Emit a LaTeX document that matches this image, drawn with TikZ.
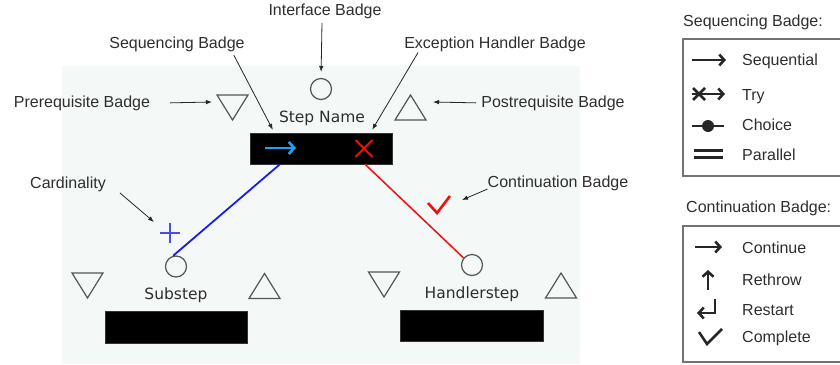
\documentclass[tikz,border=0pt]{standalone}
\usepackage{fontspec}
\setmainfont{Liberation Sans}
\newfontfamily\stepfont{DejaVu Sans}
\usetikzlibrary{arrows.meta}
\definecolor{labelgray}{HTML}{2E2E2E}
\definecolor{shapegray}{HTML}{555555}
\definecolor{panel}{HTML}{F4F8F6}
\definecolor{seqcyan}{HTML}{1CA3F5}
\definecolor{linkblue}{HTML}{1A1AF0}
\definecolor{plusblue}{HTML}{4A4AF5}
\definecolor{exred}{HTML}{F01010}
\begin{document}
\begin{tikzpicture}[x=1pt,y=-1pt,
  lbl/.style={font=\fontsize{16}{18}\selectfont, text=labelgray, anchor=base, inner sep=0pt},
  stepname/.style={font=\stepfont\fontsize{15.5}{18}\selectfont, text=labelgray, anchor=base, inner sep=0pt},
  bar/.style={fill=black, draw=black!80, inner sep=0pt},
  badgecirc/.style={circle, draw=shapegray, line width=1.2pt, minimum size=21pt, inner sep=0pt},
  tri/.style={draw=shapegray, line width=1.2pt, line join=miter},
  pointer/.style={-{Latex[length=6pt,width=4.5pt]}, line width=0.8pt, draw=black!85},
  legbox/.style={draw=black!55, line width=1.4pt},
  sym/.style={line width=2.6pt, draw=black!85},
  barb/.style={-{Straight Barb[length=5pt,width=11pt,line width=2.6pt]}},
  downtri/.pic={\draw[tri] (-15.5,-12.5) -- (15.5,-12.5) -- (0,12.5) -- cycle;},
  uptri/.pic={\draw[tri] (-15.5,12.5) -- (15.5,12.5) -- (0,-12.5) -- cycle;}
]
\useasboundingbox (0,0) rectangle (840,364);
\clip (0,0) rectangle (840,364);

% background panel
\fill[panel] (62,66) rectangle (580,364);

% ---------- main step ----------
\node[bar, minimum width=142pt, minimum height=31pt] (top) at (321,148.5) {};
\node[stepname] (topname) at (322,122) {Step Name};
\node[badgecirc] (ifc) at (321,89) {};
\coordinate (pretri) at (232.5,107.5);
\coordinate (posttri) at (410.5,107.5);
\pic at (pretri) {downtri};
\pic at (posttri) {uptri};
% sequencing badge (cyan arrow) and exception badge (red x)
\coordinate (seqa) at (265,148);
\coordinate (seqb) at (296,148);
\draw[line width=2.8pt, draw=seqcyan, -{Straight Barb[length=5.5pt,width=12pt,line width=2.6pt]}] (seqa) -- (seqb);
\coordinate (exc) at (364,148.5);
\draw[line width=2pt, draw=exred] ([shift={(-8.5,-8.5)}]exc) -- ([shift={(8.5,8.5)}]exc)
      ([shift={(-8.5,8.5)}]exc) -- ([shift={(8.5,-8.5)}]exc);

% ---------- substep ----------
\node[bar, minimum width=142pt, minimum height=32pt] (subbar) at (176,327) {};
\node[stepname] (subname) at (176,299) {Substep};
\node[badgecirc] (subc) at (176,266.5) {};
\pic at (87.5,285.5) {downtri};
\pic at (264.5,286) {uptri};
\coordinate (plus) at (170,233);
\draw[line width=1.6pt, draw=plusblue] ([xshift=-10pt]plus) -- ([xshift=10pt]plus)
      ([yshift=-10pt]plus) -- ([yshift=10pt]plus);

% ---------- handlerstep ----------
\node[bar, minimum width=143pt, minimum height=31pt] (handbar) at (471.5,325.5) {};
\node[stepname] (handname) at (472,298) {Handlerstep};
\node[badgecirc] (handc) at (472,265) {};
\pic at (384,284.5) {downtri};
\pic at (561,285.5) {uptri};
\coordinate (check) at (437,213);
\draw[line width=2.6pt, draw=exred, line join=miter] (428,203) -- (check) -- (450,196);

% ---------- links ----------
\draw[line width=1.8pt, draw=linkblue] ([xshift=-41pt]top.south) -- (subc.105);
\draw[line width=1.5pt, draw=exred] ([xshift=44pt]top.south) -- (handc.140);

% ---------- labels and pointers ----------
\node[lbl] (ifl) at (325,16) {Interface Badge};
\draw[pointer, shorten >=6pt] ([xshift=-3pt,yshift=-3.5pt]ifl.south) -- (ifc.north);

\node[lbl] (seql) at (177,48) {Sequencing Badge};
\draw[pointer] ([xshift=-11pt,yshift=-3.6pt]seql.south east) -- ([xshift=23pt,yshift=3pt]top.north west);

\node[lbl] (excl) at (495,48) {Exception Handler Badge};
\draw[pointer] ([xshift=14pt,yshift=-1pt]excl.south west) -- ([xshift=-20pt,yshift=3pt]top.north east);

\node[lbl] (prel) at (82,107) {Prerequisite Badge};
\draw[pointer] ([xshift=20pt]prel.east) -- ([xshift=-20.5pt,yshift=5.5pt]pretri);

\node[lbl] (postl) at (553,107) {Postrequisite Badge};
\draw[pointer] ([xshift=-5pt]postl.west) -- ([xshift=22.5pt,yshift=5.5pt]posttri);

\node[lbl] (cardl) at (68,188) {Cardinality};
\draw[pointer] ([xshift=14pt,yshift=-1.5pt]cardl.south east) -- ([xshift=-16pt,yshift=11pt]plus);

\node[lbl] (contl) at (558,187) {Continuation Badge};
\draw[pointer] ([xshift=0pt,yshift=1.5pt]contl.south west) -- ([xshift=25pt,yshift=13pt]check);

% ---------- legend: sequencing ----------
\node[lbl, anchor=base west] (seqtitle) at (683,26) {Sequencing Badge:};
\draw[legbox] (683,39) rectangle (860,176);
\node[lbl, anchor=base west] (lseq) at (742,65) {Sequential};
\node[lbl, anchor=base west] (ltry) at (742,100) {Try};
\node[lbl, anchor=base west] (lcho) at (742,130) {Choice};
\node[lbl, anchor=base west] (lpar) at (742,160) {Parallel};
\draw[sym, barb] (692,60) -- (726,60);
\draw[sym, barb] (692,94) -- (725,94);
\draw[sym] (693,88) -- (705,100) (693,100) -- (705,88);
\draw[sym] (692,126) -- (724,126);
\fill[black!85] (708,126) circle (6pt);
\draw[sym] (694,150.5) -- (723,150.5) (694,157.5) -- (723,157.5);

% ---------- legend: continuation ----------
\node[lbl, anchor=base west] (conttitle) at (686,212) {Continuation Badge:};
\draw[legbox] (683,226) rectangle (860,362);
\node[lbl, anchor=base west] (lcon) at (742,253) {Continue};
\node[lbl, anchor=base west] (lret) at (742,285) {Rethrow};
\node[lbl, anchor=base west] (lres) at (742,315) {Restart};
\node[lbl, anchor=base west] (lcom) at (742,342) {Complete};
\draw[sym, barb] (695,247) -- (722,247);
\draw[sym, barb] (708,290) -- (708,270);
\draw[sym, barb] (715,299) -- (715,313) -- (697,313);
\draw[sym, line join=miter] (699,332) -- (707,344) -- (722,329);
\end{tikzpicture}
\end{document}
